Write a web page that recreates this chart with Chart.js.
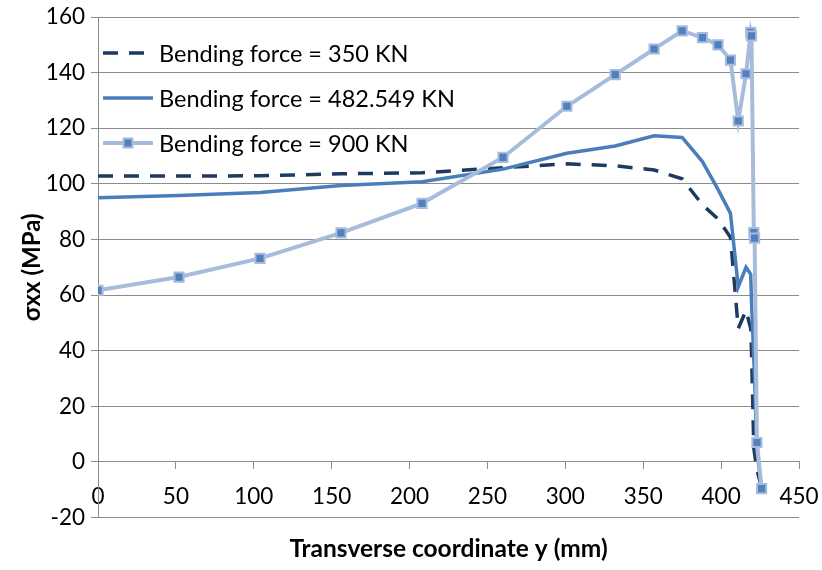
<!DOCTYPE html>
<html>
<head>
<meta charset="utf-8">
<script src="https://cdn.jsdelivr.net/npm/chart.js@4/dist/chart.umd.min.js"></script>
<style>
html,body{margin:0;padding:0;background:#ffffff;}
#wrap{width:822px;height:570px;}
</style>
</head>
<body>
<div id="wrap"><canvas id="c" width="822" height="570"></canvas></div>
<script>
// Transverse coordinate y (mm) of the nodes
const yCoord = [0, 52, 104, 156, 208, 260, 301, 332, 357, 375, 388, 398, 406, 411, 416, 419, 419.5, 421, 421.5, 423, 426];
// sigma xx (MPa) for each bending force
const stress350 = [102.8, 102.8, 102.9, 103.6, 104.0, 105.8, 107.2, 106.5, 105.0, 101.8, 92.5, 87.4, 80.8, 48.0, 54.5, 48.0, 40.0, 5.0, 3.0, -3.0, -9.0];
const stress482 = [95.0, 95.8, 96.9, 99.4, 100.8, 105.3, 111.0, 113.6, 117.3, 116.7, 108.0, 98.0, 89.4, 63.0, 70.0, 67.5, 58.0, 37.0, 30.0, 4.0, -9.5];
const stress900 = [61.7, 66.5, 73.2, 82.4, 93.0, 109.5, 127.9, 139.3, 148.5, 155.0, 152.6, 150.0, 144.5, 122.6, 139.6, 154.5, 153.2, 82.5, 80.5, 7.0, -9.6];
const seriesLabels = ['Bending force = 350 KN', 'Bending force = 482.549 KN', 'Bending force = 900 KN'];
const xTicks = [0, 50, 100, 150, 200, 250, 300, 350, 400, 450];
const yTicks = [-20, 0, 20, 40, 60, 80, 100, 120, 140, 160];

const toPts = (ys) => ys.map((v, i) => ({x: yCoord[i], y: v}));

const FONT = 'Lato';
const GRID = '#8c8c8c';

const insideLegend = {
  id: 'insideLegend',
  afterDatasetsDraw(chart) {
    const ctx = chart.ctx;
    const ca = chart.chartArea;
    ctx.save();
    chart.data.datasets.forEach((ds, i) => {
      const y = ca.top + 36 + i * 45;
      const x0 = ca.left + 5, x1 = ca.left + 55;
      ctx.beginPath();
      ctx.setLineDash(ds.borderDash || []);
      ctx.lineCap = 'butt';
      ctx.strokeStyle = ds.borderColor;
      ctx.lineWidth = ds.borderWidth;
      ctx.moveTo(x0, y);
      ctx.lineTo(x1, y);
      ctx.stroke();
      ctx.setLineDash([]);
      if (ds.pointRadius > 0) {
        const s = 9;
        const cx = (x0 + x1) / 2;
        ctx.fillStyle = ds.pointBackgroundColor;
        ctx.strokeStyle = ds.pointBorderColor;
        ctx.lineWidth = ds.pointBorderWidth;
        ctx.beginPath();
        ctx.rect(cx - s / 2, y - s / 2, s, s);
        ctx.fill();
        ctx.stroke();
      }
      ctx.fillStyle = '#000000';
      ctx.font = '23.5px ' + FONT;
      ctx.textBaseline = 'middle';
      ctx.textAlign = 'left';
      ctx.fillText(ds.label, x1 + 6, y + 1);
    });
    ctx.restore();
  }
};

function build() {
  new Chart(document.getElementById('c'), {
    type: 'line',
    data: {
      datasets: [
        {
          label: seriesLabels[0],
          data: toPts(stress350),
          borderColor: '#1f3a60',
          backgroundColor: '#1f3a60',
          borderWidth: 3.5,
          borderDash: [15, 11],
          pointRadius: 0,
          tension: 0,
          order: 2
        },
        {
          label: seriesLabels[1],
          data: toPts(stress482),
          borderColor: '#4a7ebb',
          backgroundColor: '#4a7ebb',
          borderWidth: 3.5,
          pointRadius: 0,
          tension: 0,
          order: 1
        },
        {
          label: seriesLabels[2],
          data: toPts(stress900),
          borderColor: '#a7bcdd',
          backgroundColor: '#a7bcdd',
          borderWidth: 4,
          pointStyle: 'rect',
          pointRadius: 6.5,
          pointBackgroundColor: '#4f81bd',
          pointBorderColor: '#a7bcdd',
          pointBorderWidth: 2,
          tension: 0,
          order: 0
        }
      ]
    },
    options: {
      responsive: false,
      animation: false,
      layout: {padding: {top: 17, right: 23, left: 0, bottom: 0}},
      plugins: {
        legend: {display: false},
        tooltip: {enabled: false}
      },
      scales: {
        x: {
          type: 'linear',
          position: {y: 0},
          min: 0,
          max: 450,
          afterBuildTicks: (s) => { s.ticks = xTicks.map(v => ({value: v})); },
          afterFit: (s) => { s.paddingLeft = 0; s.paddingRight = 0; },
          grid: {drawOnChartArea: false, drawTicks: true, tickLength: 7, color: GRID},
          border: {display: true, color: GRID, width: 1},
          ticks: {font: {family: FONT, size: 22.5}, color: '#000000', padding: 14, maxRotation: 0}
        },
        xTitle: {
          type: 'linear',
          position: 'bottom',
          axis: 'x',
          grid: {display: false, drawTicks: false},
          border: {display: false},
          ticks: {display: false},
          afterFit: (s) => { s.paddingLeft = 0; s.paddingRight = 0; },
          title: {
            display: true,
            text: 'Transverse coordinate y (mm)',
            font: {family: FONT, size: 24.5, weight: 'bold'},
            color: '#000000',
            padding: {top: 17, bottom: 6}
          }
        },
        y: {
          type: 'linear',
          position: 'left',
          min: -20,
          max: 160,
          afterBuildTicks: (s) => { s.ticks = yTicks.map(v => ({value: v})); },
          afterFit: (s) => { s.width = 98; s.paddingTop = 0; s.paddingBottom = 0; },
          grid: {drawTicks: true, tickLength: 7, color: GRID, lineWidth: 1},
          border: {display: true, color: GRID, width: 1},
          ticks: {font: {family: FONT, size: 22.5}, color: '#000000', padding: 6},
          title: {
            display: true,
            text: 'σxx (MPa)',
            font: {family: FONT, size: 24, weight: 'bold'},
            color: '#000000',
            padding: {top: 18, bottom: 0}
          }
        }
      }
    },
    plugins: [insideLegend]
  });
}

if (document.fonts && document.fonts.load) {
  Promise.all([
    document.fonts.load('22px ' + FONT),
    document.fonts.load('bold 24px ' + FONT)
  ]).then(build, build);
} else {
  build();
}
</script>
</body>
</html>
